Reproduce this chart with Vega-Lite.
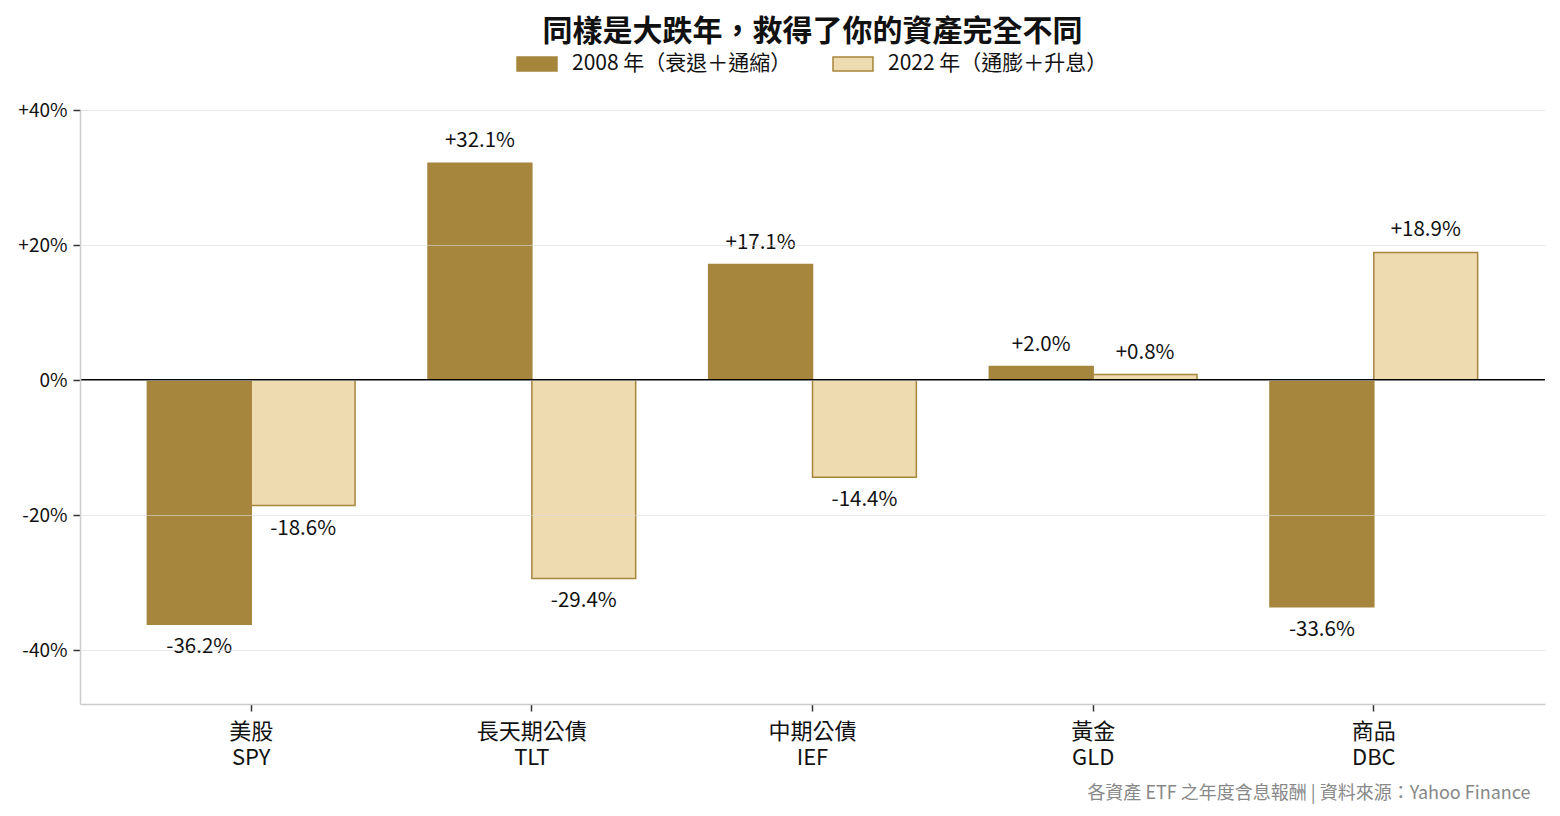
{
  "$schema": "https://vega.github.io/schema/vega-lite/v6.json",
  "width": 1465,
  "height": 594,
  "autosize": {"type": "none"},
  "padding": {"left": 80, "top": 110, "right": 15, "bottom": 112},
  "background": "white",
  "config": {
    "font": "Noto Sans CJK TC",
    "view": {"stroke": null}
  },
  "title": {
    "text": "同樣是大跌年，救得了你的資產完全不同",
    "fontSize": 30,
    "fontWeight": "bold",
    "color": "#111111",
    "anchor": "middle",
    "offset": 2
  },
  "data": {
    "values": [
      {"asset": "美股|SPY", "year": "2008 年（衰退＋通縮）", "ret": -36.2},
      {"asset": "美股|SPY", "year": "2022 年（通膨＋升息）", "ret": -18.6},
      {"asset": "長天期公債|TLT", "year": "2008 年（衰退＋通縮）", "ret": 32.1},
      {"asset": "長天期公債|TLT", "year": "2022 年（通膨＋升息）", "ret": -29.4},
      {"asset": "中期公債|IEF", "year": "2008 年（衰退＋通縮）", "ret": 17.1},
      {"asset": "中期公債|IEF", "year": "2022 年（通膨＋升息）", "ret": -14.4},
      {"asset": "黃金|GLD", "year": "2008 年（衰退＋通縮）", "ret": 2.0},
      {"asset": "黃金|GLD", "year": "2022 年（通膨＋升息）", "ret": 0.8},
      {"asset": "商品|DBC", "year": "2008 年（衰退＋通縮）", "ret": -33.6},
      {"asset": "商品|DBC", "year": "2022 年（通膨＋升息）", "ret": 18.9}
    ]
  },
  "transform": [
    {"calculate": "(datum.ret > 0 ? '+' : '-') + format(abs(datum.ret), '.1f') + '%'", "as": "lbl"}
  ],
  "layer": [
    {
      "mark": {"type": "bar", "strokeWidth": 1.5},
      "encoding": {
        "x": {
          "field": "asset",
          "type": "nominal",
          "sort": null,
          "scale": {"paddingInner": 0.26, "paddingOuter": 0.24},
          "axis": {
            "title": "各資產 ETF 之年度含息報酬 | 資料來源：Yahoo Finance",
            "titleAnchor": "end",
            "titleAlign": "right",
            "titleX": 1450,
            "titleFontSize": 18,
            "titleFontWeight": "normal",
            "titleColor": "#888888",
            "titlePadding": 16,
            "labelExpr": "split(datum.label, '|')",
            "labelAngle": 0,
            "labelFontSize": 22,
            "labelLineHeight": 26,
            "labelColor": "#111111",
            "labelPadding": 10,
            "bandPosition": 0.5,
            "tickSize": 7,
            "tickColor": "#333333",
            "tickWidth": 1.5,
            "domainColor": "#cccccc",
            "domainWidth": 1.5,
            "grid": false
          }
        },
        "xOffset": {"field": "year", "type": "nominal", "scale": {"paddingInner": 0, "paddingOuter": 0}},
        "y": {
          "field": "ret",
          "type": "quantitative",
          "scale": {"domain": [-48, 40], "nice": false},
          "axis": {
            "title": null,
            "values": [-40, -20, 0, 20, 40],
            "labelExpr": "datum.value > 0 ? '+' + datum.value + '%' : datum.value + '%'",
            "labelFontSize": 19,
            "labelColor": "#111111",
            "labelPadding": 6,
            "tickSize": 7,
            "tickColor": "#333333",
            "tickWidth": 1.5,
            "domainColor": "#cccccc",
            "domainWidth": 1.5,
            "gridColor": "#d8d8d8",
            "gridOpacity": 0.6,
            "zindex": 1
          }
        },
        "color": {
          "field": "year",
          "type": "nominal",
          "scale": {"range": ["#a6853d", "#efdbb0"]},
          "legend": {
            "title": null,
            "orient": "none",
            "direction": "horizontal",
            "legendX": 442,
            "legendY": -61,
            "symbolType": "M-1.45,-0.5H1.45V0.5H-1.45Z",
            "symbolSize": 760,
            "symbolStrokeColor": "#a6853d",
            "symbolStrokeWidth": 1.5,
            "labelFontSize": 21,
            "labelColor": "#111111",
            "labelOffset": 20,
            "labelLimit": 500,
            "columnPadding": 38
          }
        },
        "stroke": {"value": "#a6853d"}
      }
    },
    {
      "transform": [{"filter": "datum.ret >= 0"}],
      "mark": {"type": "text", "fontSize": 20.5, "color": "#111111", "baseline": "middle", "dy": -22},
      "encoding": {
        "x": {"field": "asset", "type": "nominal", "sort": null},
        "xOffset": {"field": "year", "type": "nominal"},
        "y": {"field": "ret", "type": "quantitative"},
        "text": {"field": "lbl"}
      }
    },
    {
      "transform": [{"filter": "datum.ret < 0"}],
      "mark": {"type": "text", "fontSize": 20.5, "color": "#111111", "baseline": "middle", "dy": 23},
      "encoding": {
        "x": {"field": "asset", "type": "nominal", "sort": null},
        "xOffset": {"field": "year", "type": "nominal"},
        "y": {"field": "ret", "type": "quantitative"},
        "text": {"field": "lbl"}
      }
    },
    {
      "mark": {"type": "rule", "color": "#000000", "strokeWidth": 2},
      "encoding": {"y": {"datum": 0}}
    }
  ]
}
